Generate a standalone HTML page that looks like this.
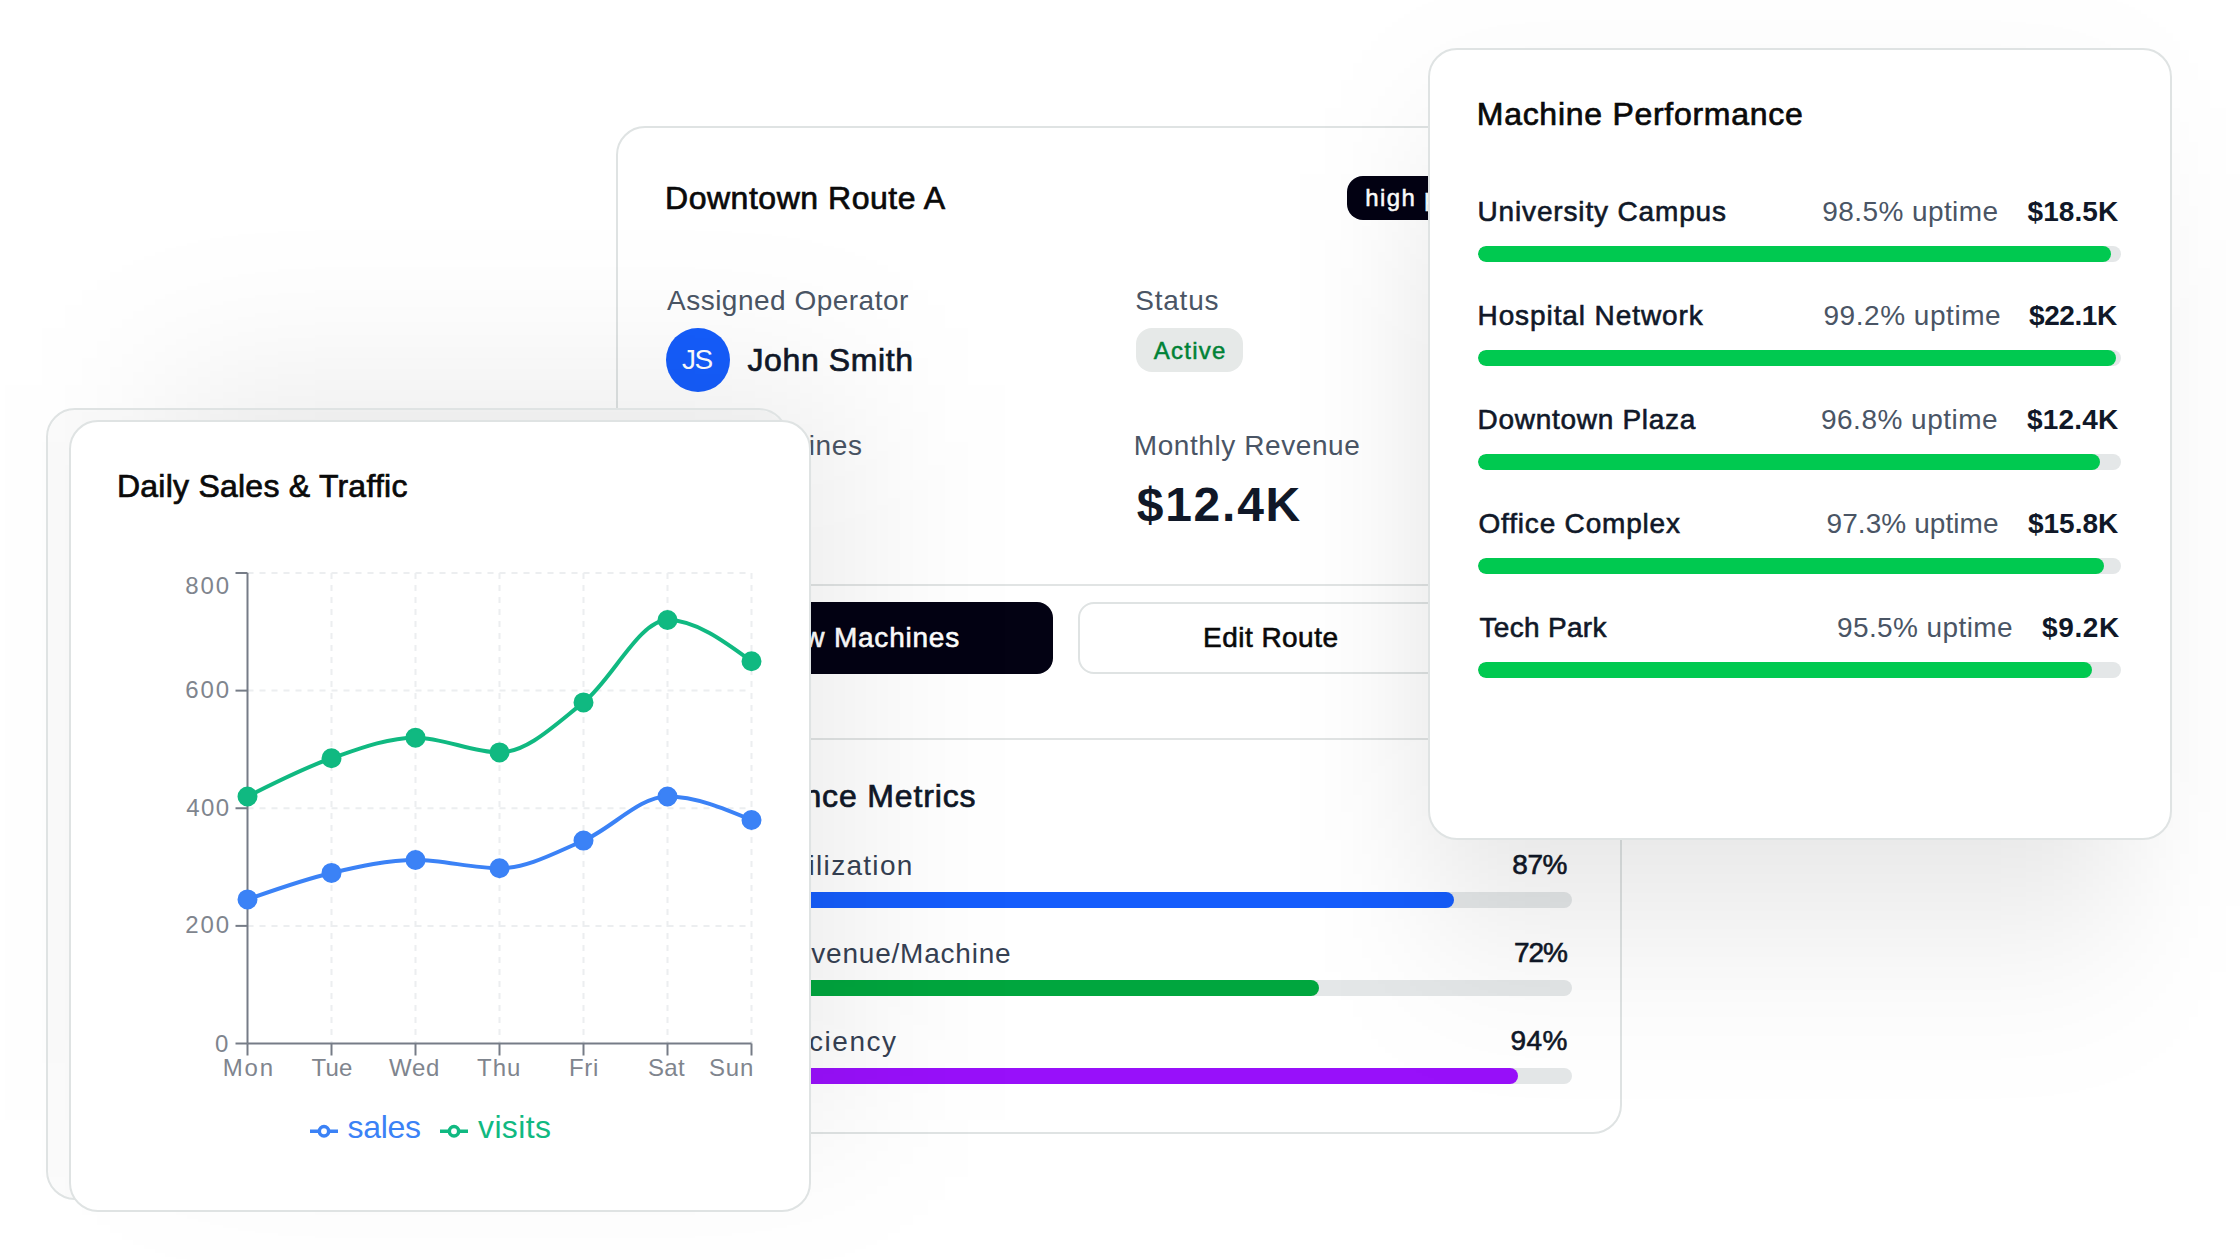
<!DOCTYPE html>
<html lang="en"><head><meta charset="utf-8"><title>Vending Dashboard</title>
<style>
html,body{margin:0;padding:0;background:#fff}
body{width:2240px;height:1260px;position:relative;overflow:hidden;font-family:"Liberation Sans",sans-serif;-webkit-font-smoothing:antialiased}
.card{position:absolute;box-sizing:border-box;background:#fff;border:2px solid #dfe3e3;border-radius:29px}
.t{position:absolute;white-space:pre;line-height:1;margin:0}
.abs{position:absolute;box-sizing:border-box}
.track{position:absolute;height:16px;border-radius:8px;background:#e4e7e8;overflow:hidden}
.fill{position:absolute;left:0;top:0;height:16px;border-radius:8px}
</style></head><body>
<div class="card" id="mid" style="left:616px;top:126px;width:1006px;height:1008px"></div>
<div class="abs" style="left:1347px;top:176px;width:190px;height:44px;border-radius:16px;background:#030213"></div>
<div class="abs" style="left:666px;top:328px;width:64px;height:64px;border-radius:32px;background:#155dfc"></div>
<div class="abs" style="left:1135.5px;top:328px;width:107.5px;height:44px;border-radius:16px;background:#e6e9e8"></div>
<div class="abs" style="left:667px;top:584px;width:904px;height:2px;background:#e1e4e4"></div>
<div class="abs" style="left:667px;top:738px;width:904px;height:2px;background:#e1e4e4"></div>
<div class="abs" style="left:667px;top:602px;width:386px;height:72px;border-radius:16px;background:#030213"></div>
<div class="abs" style="left:1078px;top:602px;width:386px;height:72px;border-radius:16px;background:#fff;border:2px solid #dfe3e3"></div>
<div class="abs" style="left:1489px;top:602px;width:82px;height:72px;border-radius:16px;background:#fff;border:2px solid #dfe3e3"></div>
<div class="track" style="left:667px;top:892px;width:905px"><div class="fill" style="width:87%;background:#155dfc"></div></div>
<div class="track" style="left:667px;top:980px;width:905px"><div class="fill" style="width:72%;background:#00a63e"></div></div>
<div class="track" style="left:667px;top:1068px;width:905px"><div class="fill" style="width:94%;background:#9810fa"></div></div>
<div class="t" style="left:665.00px;top:181.66px;font-size:32px;font-weight:400;color:#0a0a0a;letter-spacing:0.528px;-webkit-text-stroke:0.7px #0a0a0a;">Downtown Route A</div>
<div class="t" style="left:1365.25px;top:186.18px;font-size:24px;font-weight:400;color:#ffffff;letter-spacing:1.412px;-webkit-text-stroke:0.5px #ffffff;">high priority</div>
<div class="t" style="left:667.00px;top:287.05px;font-size:28px;font-weight:400;color:#4a5565;letter-spacing:0.491px;">Assigned Operator</div>
<div class="t" style="left:1135.25px;top:287.05px;font-size:28px;font-weight:400;color:#4a5565;letter-spacing:0.774px;">Status</div>
<div class="t" style="left:682.00px;top:346.30px;font-size:28px;font-weight:400;color:#ffffff;letter-spacing:-1.5px;">JS</div>
<div class="t" style="left:747.50px;top:343.66px;font-size:32px;font-weight:400;color:#101828;letter-spacing:0.608px;-webkit-text-stroke:0.7px #101828;">John Smith</div>
<div class="t" style="left:1153.75px;top:339.18px;font-size:24px;font-weight:400;color:#008236;letter-spacing:1.248px;-webkit-text-stroke:0.5px #008236;">Active</div>
<div class="t" style="left:667.00px;top:431.70px;font-size:28px;font-weight:400;color:#4a5565;letter-spacing:0.634px;">Total Machines</div>
<div class="t" style="left:1133.80px;top:431.90px;font-size:28px;font-weight:400;color:#4a5565;letter-spacing:0.576px;">Monthly Revenue</div>
<div class="t" style="left:666.00px;top:481.37px;font-size:48px;font-weight:700;color:#101828;letter-spacing:0px;">8</div>
<div class="t" style="left:1136.70px;top:481.37px;font-size:48px;font-weight:700;color:#101828;letter-spacing:1.757px;">$12.4K</div>
<div class="t" style="left:762.00px;top:624.30px;font-size:28px;font-weight:400;color:#ffffff;letter-spacing:0.784px;-webkit-text-stroke:0.6px #ffffff;">View Machines</div>
<div class="t" style="left:1203.00px;top:624.30px;font-size:28px;font-weight:400;color:#0a0a0a;letter-spacing:0.47px;-webkit-text-stroke:0.6px #0a0a0a;">Edit Route</div>
<div class="t" style="left:665.00px;top:779.91px;font-size:32px;font-weight:400;color:#101828;letter-spacing:0.851px;-webkit-text-stroke:0.7px #101828;">Performance Metrics</div>
<div class="t" style="left:778.00px;top:851.80px;font-size:28px;font-weight:400;color:#364153;letter-spacing:1.294px;">Utilization</div>
<div class="t" style="left:774.00px;top:939.80px;font-size:28px;font-weight:400;color:#364153;letter-spacing:0.777px;">Revenue/Machine</div>
<div class="t" style="left:763.00px;top:1027.80px;font-size:28px;font-weight:400;color:#364153;letter-spacing:1.521px;">Efficiency</div>
<div class="t" style="left:1512.20px;top:851.30px;font-size:28px;font-weight:400;color:#101828;letter-spacing:-0.372px;-webkit-text-stroke:0.6px #101828;">87%</div>
<div class="t" style="left:1514.00px;top:939.30px;font-size:28px;font-weight:400;color:#101828;letter-spacing:-1.072px;-webkit-text-stroke:0.6px #101828;">72%</div>
<div class="t" style="left:1510.50px;top:1027.30px;font-size:28px;font-weight:400;color:#101828;letter-spacing:0.478px;-webkit-text-stroke:0.6px #101828;">94%</div>
<div class="abs" style="left:1425px;top:302px;width:701px;height:476px;background:rgba(0,0,0,.11);filter:blur(65px);transform:scaleY(1.538)"></div>
<div class="card" id="right" style="left:1428px;top:48px;width:744px;height:792px"></div>
<div class="track" style="left:1478px;top:246px;width:643px"><div class="fill" style="width:98.5%;background:#00c950"></div></div>
<div class="track" style="left:1478px;top:350px;width:643px"><div class="fill" style="width:99.2%;background:#00c950"></div></div>
<div class="track" style="left:1478px;top:454px;width:643px"><div class="fill" style="width:96.8%;background:#00c950"></div></div>
<div class="track" style="left:1478px;top:558px;width:643px"><div class="fill" style="width:97.3%;background:#00c950"></div></div>
<div class="track" style="left:1478px;top:662px;width:643px"><div class="fill" style="width:95.5%;background:#00c950"></div></div>
<div class="t" style="left:1476.75px;top:97.91px;font-size:32px;font-weight:400;color:#0a0a0a;letter-spacing:0.723px;-webkit-text-stroke:0.7px #0a0a0a;">Machine Performance</div>
<div class="t" style="left:1477.50px;top:197.55px;font-size:28px;font-weight:400;color:#101828;letter-spacing:0.847px;-webkit-text-stroke:0.6px #101828;">University Campus</div>
<div class="t" style="left:1822.25px;top:197.55px;font-size:28px;font-weight:400;color:#4a5565;letter-spacing:0.419px;">98.5% uptime</div>
<div class="t" style="left:2027.50px;top:197.55px;font-size:28px;font-weight:700;color:#101828;letter-spacing:0.086px;">$18.5K</div>
<div class="t" style="left:1477.50px;top:301.55px;font-size:28px;font-weight:400;color:#101828;letter-spacing:0.908px;-webkit-text-stroke:0.6px #101828;">Hospital Network</div>
<div class="t" style="left:1823.50px;top:301.55px;font-size:28px;font-weight:400;color:#4a5565;letter-spacing:0.533px;">99.2% uptime</div>
<div class="t" style="left:2029.00px;top:301.55px;font-size:28px;font-weight:700;color:#101828;letter-spacing:-0.414px;">$22.1K</div>
<div class="t" style="left:1477.50px;top:405.55px;font-size:28px;font-weight:400;color:#101828;letter-spacing:0.713px;-webkit-text-stroke:0.6px #101828;">Downtown Plaza</div>
<div class="t" style="left:1821.00px;top:405.55px;font-size:28px;font-weight:400;color:#4a5565;letter-spacing:0.487px;">96.8% uptime</div>
<div class="t" style="left:2027.00px;top:405.55px;font-size:28px;font-weight:700;color:#101828;letter-spacing:0.186px;">$12.4K</div>
<div class="t" style="left:1478.50px;top:509.55px;font-size:28px;font-weight:400;color:#101828;letter-spacing:0.816px;-webkit-text-stroke:0.6px #101828;">Office Complex</div>
<div class="t" style="left:1826.50px;top:509.55px;font-size:28px;font-weight:400;color:#4a5565;letter-spacing:0.078px;">97.3% uptime</div>
<div class="t" style="left:2028.00px;top:509.55px;font-size:28px;font-weight:700;color:#101828;letter-spacing:-0.014px;">$15.8K</div>
<div class="t" style="left:1479.50px;top:613.55px;font-size:28px;font-weight:400;color:#101828;letter-spacing:0.313px;-webkit-text-stroke:0.6px #101828;">Tech Park</div>
<div class="t" style="left:1837.00px;top:613.55px;font-size:28px;font-weight:400;color:#4a5565;letter-spacing:0.396px;">95.5% uptime</div>
<div class="t" style="left:2042.00px;top:613.55px;font-size:28px;font-weight:700;color:#101828;letter-spacing:0.626px;">$9.2K</div>
<div class="abs" id="lshadow" style="left:160px;top:385px;width:690px;height:735px;background:rgba(0,0,0,.08);filter:blur(85px)"></div>
<div class="card" id="back" style="left:46px;top:408px;width:742px;height:792px;overflow:hidden"><div class="abs" style="left:112px;top:-25px;width:690px;height:735px;background:rgba(0,0,0,.08);filter:blur(85px)"></div><div class="abs" style="left:0;top:0;width:100%;height:100%;background:rgba(0,0,0,.015)"></div></div>
<div class="card" id="left" style="left:68.5px;top:420px;width:742px;height:792px"></div>
<svg class="abs" style="left:0;top:0" width="2240" height="1260" viewBox="0 0 2240 1260">
<g stroke="#eceef0" stroke-width="2" stroke-dasharray="6 6" fill="none"><line x1="247.5" y1="925.88" x2="751.5" y2="925.88"/><line x1="247.5" y1="808.25" x2="751.5" y2="808.25"/><line x1="247.5" y1="690.62" x2="751.5" y2="690.62"/><line x1="247.5" y1="573.00" x2="751.5" y2="573.00"/><line x1="331.5" y1="573" x2="331.5" y2="1043.5"/><line x1="415.5" y1="573" x2="415.5" y2="1043.5"/><line x1="499.5" y1="573" x2="499.5" y2="1043.5"/><line x1="583.5" y1="573" x2="583.5" y2="1043.5"/><line x1="667.5" y1="573" x2="667.5" y2="1043.5"/><line x1="751.5" y1="573" x2="751.5" y2="1043.5"/></g>
<g stroke="#767c87" stroke-width="2" fill="none"><line x1="247.5" y1="573" x2="247.5" y2="1043.5"/><line x1="247.5" y1="1043.5" x2="751.5" y2="1043.5"/><line x1="235.5" y1="1043.50" x2="247.5" y2="1043.50"/><line x1="235.5" y1="925.88" x2="247.5" y2="925.88"/><line x1="235.5" y1="808.25" x2="247.5" y2="808.25"/><line x1="235.5" y1="690.62" x2="247.5" y2="690.62"/><line x1="235.5" y1="573.00" x2="247.5" y2="573.00"/><line x1="247.5" y1="1043.5" x2="247.5" y2="1055.5"/><line x1="331.5" y1="1043.5" x2="331.5" y2="1055.5"/><line x1="415.5" y1="1043.5" x2="415.5" y2="1055.5"/><line x1="499.5" y1="1043.5" x2="499.5" y2="1055.5"/><line x1="583.5" y1="1043.5" x2="583.5" y2="1055.5"/><line x1="667.5" y1="1043.5" x2="667.5" y2="1055.5"/><line x1="751.5" y1="1043.5" x2="751.5" y2="1055.5"/></g>
<path d="M247.50,899.41C275.50,889.46,303.50,879.51,331.50,872.94C359.50,866.38,387.50,860.00,415.50,860.00C443.50,860.00,471.50,868.24,499.50,868.24C527.50,868.24,555.50,852.56,583.50,840.60C611.50,828.64,639.50,796.49,667.50,796.49C695.50,796.49,723.50,808.25,751.50,820.01" stroke="#3b82f6" stroke-width="4" fill="none"/><circle cx="247.50" cy="899.41" r="9" fill="#3b82f6" stroke="#3b82f6" stroke-width="2"/><circle cx="331.50" cy="872.94" r="9" fill="#3b82f6" stroke="#3b82f6" stroke-width="2"/><circle cx="415.50" cy="860.00" r="9" fill="#3b82f6" stroke="#3b82f6" stroke-width="2"/><circle cx="499.50" cy="868.24" r="9" fill="#3b82f6" stroke="#3b82f6" stroke-width="2"/><circle cx="583.50" cy="840.60" r="9" fill="#3b82f6" stroke="#3b82f6" stroke-width="2"/><circle cx="667.50" cy="796.49" r="9" fill="#3b82f6" stroke="#3b82f6" stroke-width="2"/><circle cx="751.50" cy="820.01" r="9" fill="#3b82f6" stroke="#3b82f6" stroke-width="2"/>
<path d="M247.50,796.49C275.50,782.27,303.50,768.06,331.50,758.26C359.50,748.46,387.50,737.67,415.50,737.67C443.50,737.67,471.50,752.38,499.50,752.38C527.50,752.38,555.50,724.44,583.50,702.39C611.50,680.33,639.50,620.05,667.50,620.05C695.50,620.05,723.50,640.63,751.50,661.22" stroke="#10b981" stroke-width="4" fill="none"/><circle cx="247.50" cy="796.49" r="9" fill="#10b981" stroke="#10b981" stroke-width="2"/><circle cx="331.50" cy="758.26" r="9" fill="#10b981" stroke="#10b981" stroke-width="2"/><circle cx="415.50" cy="737.67" r="9" fill="#10b981" stroke="#10b981" stroke-width="2"/><circle cx="499.50" cy="752.38" r="9" fill="#10b981" stroke="#10b981" stroke-width="2"/><circle cx="583.50" cy="702.39" r="9" fill="#10b981" stroke="#10b981" stroke-width="2"/><circle cx="667.50" cy="620.05" r="9" fill="#10b981" stroke="#10b981" stroke-width="2"/><circle cx="751.50" cy="661.22" r="9" fill="#10b981" stroke="#10b981" stroke-width="2"/>
<path d="M310,1131.25h9.33A4.67,4.67,0,1,1,328.67,1131.25H338M328.67,1131.25A4.67,4.67,0,1,1,319.33,1131.25" stroke="#3b82f6" stroke-width="3.5" fill="none"/><path d="M440,1131.25h9.33A4.67,4.67,0,1,1,458.67,1131.25H468M458.67,1131.25A4.67,4.67,0,1,1,449.33,1131.25" stroke="#10b981" stroke-width="3.5" fill="none"/></svg>
<div class="t" style="left:117.00px;top:469.91px;font-size:32px;font-weight:400;color:#0a0a0a;letter-spacing:0.234px;-webkit-text-stroke:0.7px #0a0a0a;">Daily Sales &amp; Traffic</div>
<div class="t" style="left:185.30px;top:574.18px;font-size:24px;font-weight:400;color:#7f858e;letter-spacing:1.877px;">800</div>
<div class="t" style="left:185.30px;top:678.18px;font-size:24px;font-weight:400;color:#7f858e;letter-spacing:1.877px;">600</div>
<div class="t" style="left:186.30px;top:795.68px;font-size:24px;font-weight:400;color:#7f858e;letter-spacing:1.377px;">400</div>
<div class="t" style="left:185.30px;top:913.18px;font-size:24px;font-weight:400;color:#7f858e;letter-spacing:1.877px;">200</div>
<div class="t" style="left:215.10px;top:1031.68px;font-size:24px;font-weight:400;color:#7f858e;letter-spacing:0px;">0</div>
<div class="t" style="left:222.75px;top:1056.43px;font-size:24px;font-weight:400;color:#7f858e;letter-spacing:1.83px;">Mon</div>
<div class="t" style="left:311.60px;top:1056.43px;font-size:24px;font-weight:400;color:#7f858e;letter-spacing:0.141px;">Tue</div>
<div class="t" style="left:389.00px;top:1056.43px;font-size:24px;font-weight:400;color:#7f858e;letter-spacing:0.717px;">Wed</div>
<div class="t" style="left:477.00px;top:1056.43px;font-size:24px;font-weight:400;color:#7f858e;letter-spacing:0.996px;">Thu</div>
<div class="t" style="left:569.00px;top:1056.43px;font-size:24px;font-weight:400;color:#7f858e;letter-spacing:0.674px;">Fri</div>
<div class="t" style="left:648.00px;top:1056.43px;font-size:24px;font-weight:400;color:#7f858e;letter-spacing:0.322px;">Sat</div>
<div class="t" style="left:709.00px;top:1056.43px;font-size:24px;font-weight:400;color:#7f858e;letter-spacing:0.822px;">Sun</div>
<div class="t" style="left:347.50px;top:1110.91px;font-size:32px;font-weight:400;color:#3b82f6;letter-spacing:-0.301px;">sales</div>
<div class="t" style="left:478.00px;top:1110.91px;font-size:32px;font-weight:400;color:#10b981;letter-spacing:0.378px;">visits</div>
</body></html>
